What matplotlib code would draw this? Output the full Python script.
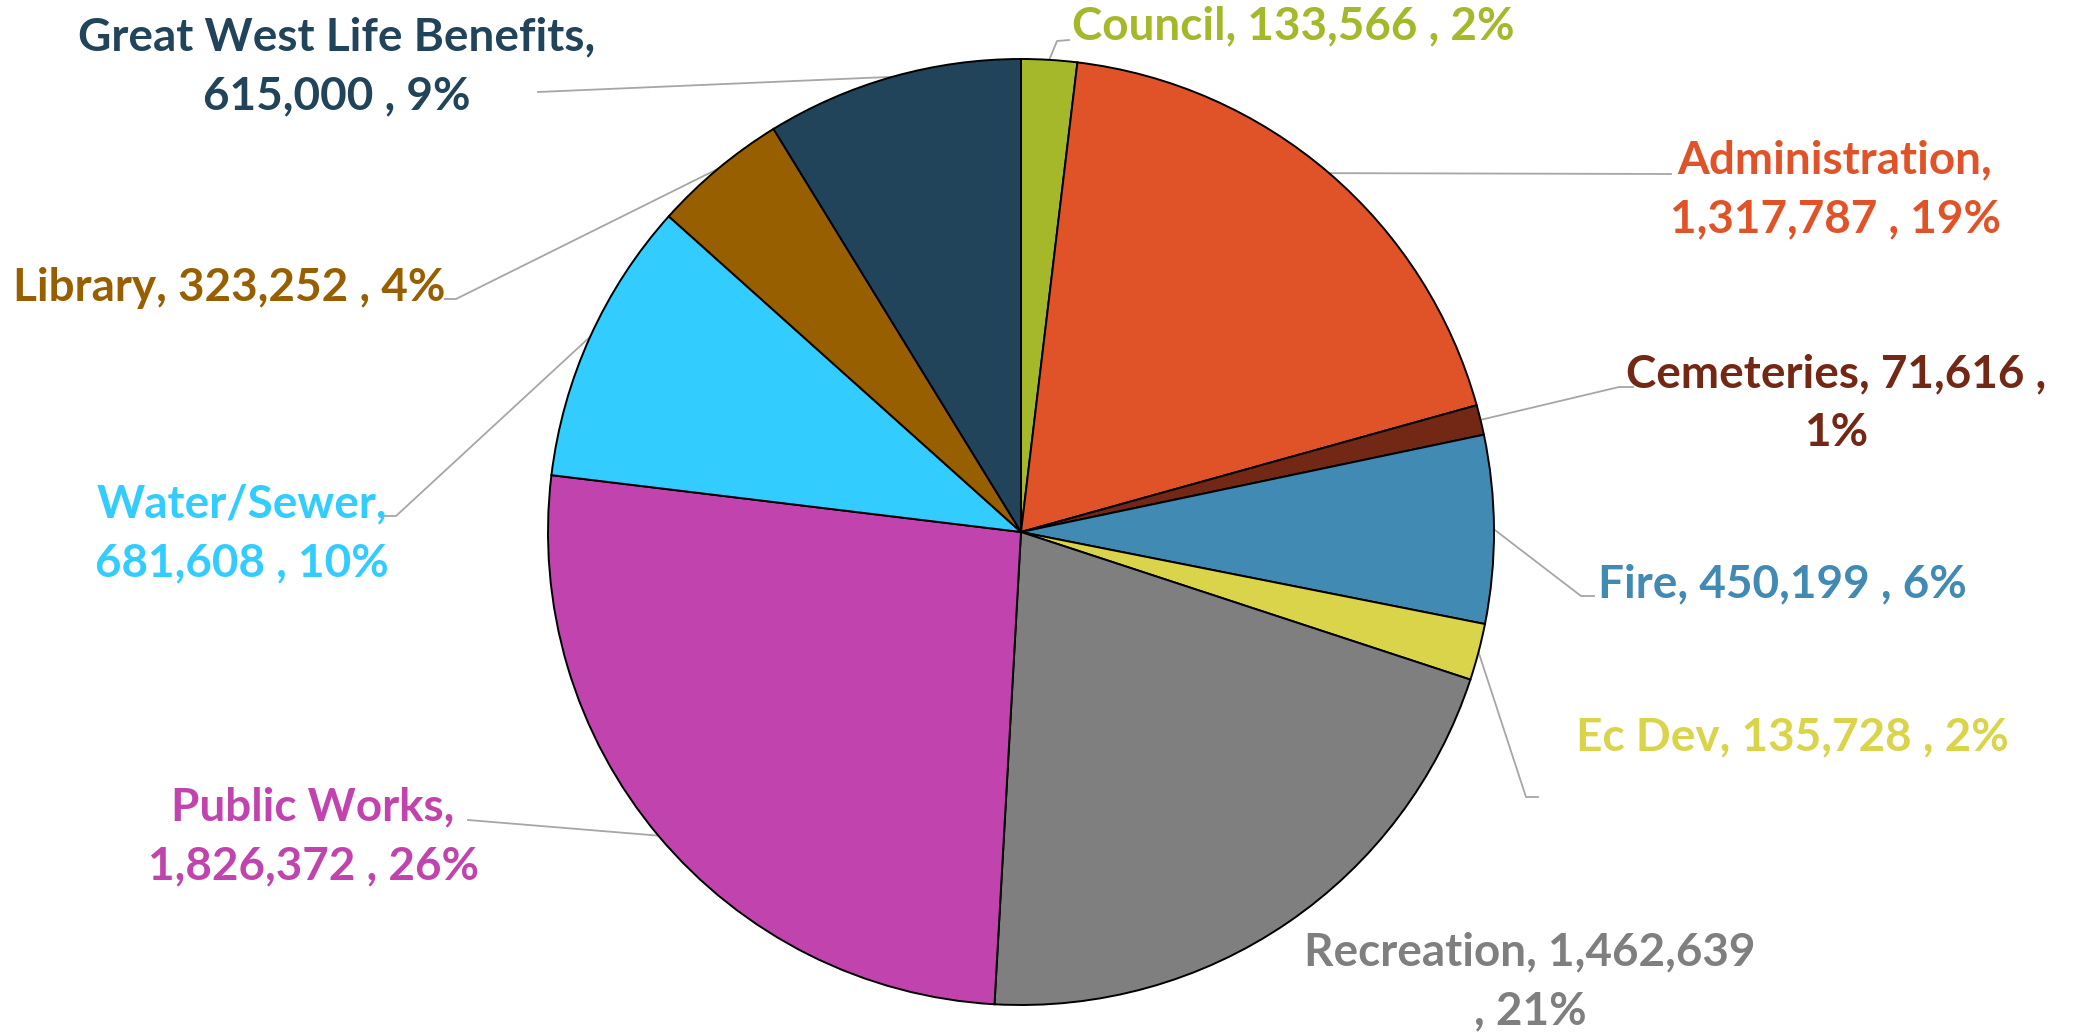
import numpy as np
import matplotlib
matplotlib.use("Agg")
import matplotlib.pyplot as plt

plt.rcParams["font.family"] = ["Lato", "DejaVu Sans"]

# Budget by department (clockwise from 12 o'clock)
departments = [
    "Council", "Administration", "Cemeteries", "Fire", "Ec Dev",
    "Recreation", "Public Works", "Water/Sewer", "Library",
    "Great West Life Benefits",
]
amounts = [133566, 1317787, 71616, 450199, 135728,
           1462639, 1826372, 681608, 323252, 615000]
colors = ["#A5B82A", "#E05328", "#722814", "#418AB3", "#D9D449",
          "#7F7F80", "#C144AE", "#33CCFF", "#985F00", "#21445B"]

W, H = 2085, 1036
CX, CY, R = 1021, 532, 473          # pie centre / radius in image pixels
FS = 33
LEADER = "#A6A6A6"

# label layout in image pixels: text centre, line break, leader end points
label_layout = {
    "Council":        dict(xy=(1293, 26), brk=False,
                           leader=[(1057, 41), (1069, 40)]),
    "Administration": dict(xy=(1835, 190), brk=True,
                           leader=[(1671, 174)]),
    "Cemeteries":     dict(xy=(1836, 404), brk="late",
                           leader=[(1619, 387), (1633, 387)]),
    "Fire":           dict(xy=(1782, 584), brk=False,
                           leader=[(1581, 596), (1594, 596)]),
    "Ec Dev":         dict(xy=(1792, 737), brk=False,
                           leader=[(1526, 797), (1538, 797)]),
    "Recreation":     dict(xy=(1530, 982), brk="late",
                           leader=None),
    "Public Works":   dict(xy=(313, 837), brk=True,
                           leader=[(468, 820)]),
    "Water/Sewer":    dict(xy=(242, 534), brk=True,
                           leader=[(396, 516), (384, 516)]),
    "Library":        dict(xy=(229, 288), brk=False,
                           leader=[(456, 299), (445, 299)]),
    "Great West Life Benefits": dict(xy=(337, 67), brk=True,
                                     leader=[(538, 92)]),
}


def img(x, y):
    return x, H - y


def whole_percents(values):
    # percentages rounded so they add up to 100 (largest remainder)
    raw = np.array(values, dtype=float) / sum(values) * 100
    out = np.floor(raw).astype(int)
    short = 100 - out.sum()
    order = np.argsort(-(raw - out))
    out[order[:short]] += 1
    return out


def main() -> None:
    fig = plt.figure(figsize=(W / 100, H / 100), dpi=100)
    ax = fig.add_axes([0, 0, 1, 1])

    wedges, _ = ax.pie(
        amounts,
        colors=colors,
        startangle=90,
        counterclock=False,
        center=img(CX, CY),
        radius=R,
        wedgeprops=dict(edgecolor="black", linewidth=1.4),
    )
    ax.set_xlim(0, W)
    ax.set_ylim(0, H)
    ax.set_aspect("auto")
    ax.axis("off")

    pcts = whole_percents(amounts)
    for name, val, pc, col, w in zip(departments, amounts, pcts, colors, wedges):
        lay = label_layout[name]
        pct = f"{pc}%"
        num = f"{val:,}"
        if lay["brk"] is True:
            txt = f"{name},\n{num} , {pct}"
        elif name == "Cemeteries":
            txt = f"{name}, {num} ,\n{pct}"
        elif lay["brk"] == "late":
            txt = f"{name}, {num}\n, {pct}"
        else:
            txt = f"{name}, {num} , {pct}"
        ax.text(*img(*lay["xy"]), txt, color=col, fontsize=FS, fontweight="bold",
                ha="center", va="center", multialignment="center",
                linespacing=1.5)

        if lay["leader"]:
            mid = np.deg2rad((w.theta1 + w.theta2) / 2)
            cx, cy = img(CX, CY)
            pts = [(cx + R * np.cos(mid), cy + R * np.sin(mid))]
            pts += [img(*p) for p in lay["leader"]]
            xs, ys = zip(*pts)
            ax.plot(xs, ys, color=LEADER, linewidth=1.3, zorder=0.5)

    fig.savefig("out.png", dpi=100)
    plt.close(fig)


if __name__ == "__main__":
    main()
